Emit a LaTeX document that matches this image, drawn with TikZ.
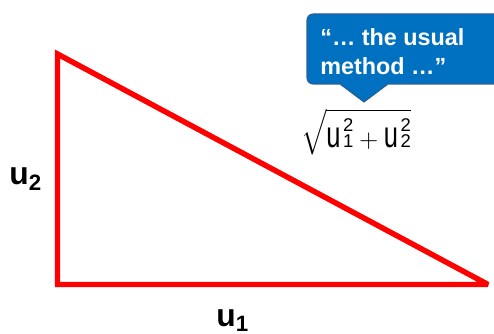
\documentclass[tikz,border=0pt]{standalone}
\usepackage{fontspec}
\setmainfont{Liberation Sans}
\usepackage{amsmath}
\usepackage{xcolor}
\definecolor{calloutblue}{HTML}{0070C0}
\definecolor{calloutedge}{HTML}{2E5E95}
\definecolor{sidered}{HTML}{FF0000}
% squared leg with index, as in the slide's equation
\newcommand{\digitsize}{\fontsize{10.5}{11}\selectfont}
\newcommand{\uterm}[1]{\scalebox{1}[1.45]{u}\kern1.5pt\rlap{\raisebox{9pt}{\digitsize 2}}{\digitsize #1}}

\begin{document}
\begin{tikzpicture}[x=0.02cm, y=-0.02cm,
  side/.style={draw=sidered, line width=3.1pt, line join=miter, miter limit=2.5},
  leglabel/.style={inner sep=0pt, anchor=base west, font=\fontsize{18.1}{20}\selectfont\bfseries}]
\useasboundingbox (0,0) rectangle (494,334);

% right triangle
\coordinate (top) at (57.5,54);
\coordinate (corner) at (57.5,284.5);
\coordinate (tip) at (488,284.5);
\draw[side] (top) -- (corner) -- (tip) -- cycle;

% leg labels
\node[leglabel] (u2) at (9,185) {u$_{\text{\bfseries 2}}$};
\node[leglabel] (u1) at (216,327) {u$_{\text{\bfseries 1}}$};

% callout
\coordinate (point) at (364,102);
\draw[fill=calloutblue, draw=calloutedge, line width=0.6pt]
  (point) -- (388,84) [rounded corners=0.12cm] -- (505,84) -- (505,14) -- (307,14) -- (307,84) [sharp corners] -- (340,84) -- cycle;
\node[anchor=north west, inner sep=0pt, align=left, text=white,
  font=\fontsize{13.3}{16.4}\selectfont\bfseries] (quote) at (320,28) {“… the usual\\method …”};

% hypotenuse length
\node[font=\fontsize{14.5}{17}\selectfont] (norm) at (356,132)
  {$\sqrt{\hbox{\uterm{1}}+\hbox{\uterm{2}}}$};

\end{tikzpicture}
\end{document}
